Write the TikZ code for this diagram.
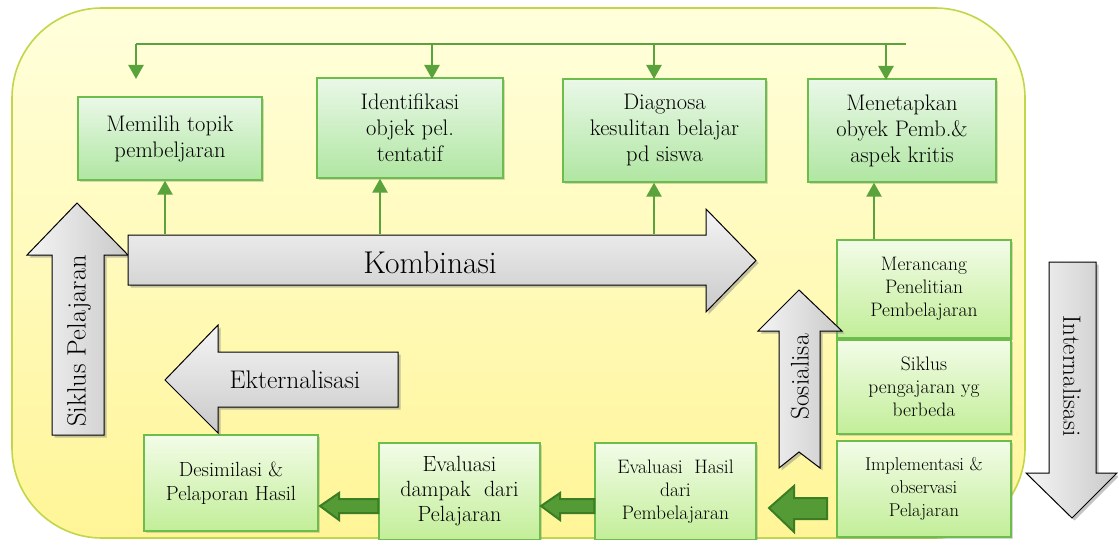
\documentclass[tikz,border=0pt]{standalone}
\usetikzlibrary{shadows,arrows.meta}
\definecolor{bgtop}{HTML}{FFFFDC}
\definecolor{bgbot}{HTML}{FFF597}
\definecolor{bgedge}{HTML}{C2D64A}
\definecolor{gtop}{HTML}{EAF8E8}
\definecolor{gbot}{HTML}{B0E6A2}
\definecolor{gedge}{HTML}{6CBD4C}
\definecolor{ytop}{HTML}{F3FCE8}
\definecolor{ybot}{HTML}{C2EE98}
\definecolor{connc}{HTML}{5AA23C}
\definecolor{darrow}{HTML}{3B7D25}
\definecolor{farrow}{HTML}{549A35}
\tikzset{
  x=1pt, y=-1pt,
  topbox/.style={draw=gedge, line width=1.3pt, top color=gtop, bottom color=gbot,
    align=center, inner sep=0pt, font=\fontsize{22.5}{26}\selectfont,
    drop shadow={shadow xshift=2pt, shadow yshift=-2pt, opacity=0.3}},
  sidebox/.style={topbox, top color=ytop, bottom color=ybot, font=\fontsize{19.5}{23}\selectfont},
  connline/.style={draw=connc, line width=2.4pt},
  conn/.style={connline, -{Triangle[length=14pt,width=15pt]}},
  grayarrow/.style={draw=black, line width=1pt, line join=miter,
    drop shadow={shadow xshift=2.5pt, shadow yshift=-2.5pt, opacity=0.45}},
  greenarrow/.style={draw=darrow, fill=farrow, line width=2pt, line join=miter},
  glabel/.style={inner sep=0pt, font=\fontsize{25.5}{28}\selectfont}
}
\begin{document}
\begin{tikzpicture}
\useasboundingbox (0,0) rectangle (1118,540);
\fill[white] (0,0) rectangle (1118,540);
% background panel
\shade[rounded corners=90pt, top color=bgtop, bottom color=bgbot, draw=bgedge, line width=1.6pt]
  (12,8) rectangle (1025,538);

% top boxes
\node[topbox, minimum width=184pt, minimum height=83pt] (b1) at (170,138.5) {Memilih topik\\pembeljaran};
\node[topbox, minimum width=186pt, minimum height=100pt] (b2) at (410,128) {Identifikasi\\objek pel.\\tentatif};
\node[topbox, minimum width=203pt, minimum height=103pt] (b3) at (664.5,130.5) {Diagnosa\\kesulitan belajar\\pd siswa};
\node[topbox, minimum width=188pt, minimum height=103pt] (b4) at (902,130.5) {Menetapkan\\obyek Pemb.\&\\aspek kritis};

% right column boxes
\node[sidebox, minimum width=174pt, minimum height=98pt] (r1) at (924,289) {Merancang\\Penelitian\\Pembelajaran};
\node[sidebox, minimum width=174pt, minimum height=94pt] (r2) at (924,387) {Siklus\\pengajaran yg\\berbeda};
\node[sidebox, minimum width=174pt, minimum height=96pt, font=\fontsize{18.5}{23}\selectfont] (r3) at (924,489) {Implementasi \&\\observasi\\Pelajaran};

% bottom boxes
\node[sidebox, minimum width=174pt, minimum height=96pt, font=\fontsize{20.5}{23.5}\selectfont] (d1) at (231,483) {Desimilasi \&\\Pelaporan Hasil};
\node[sidebox, minimum width=161pt, minimum height=97pt, font=\fontsize{22}{25}\selectfont] (d2) at (459.5,491.5) {Evaluasi\\dampak\ \ dari\\Pelajaran};
\node[sidebox, minimum width=161pt, minimum height=97pt] (d3) at (675.5,491.5) {Evaluasi\ \ Hasil\\dari\\Pembelajaran};

% top feedback line
\coordinate (tl) at (136,44);
\coordinate (tm1) at (432,44);
\coordinate (tm2) at (654,44);
\coordinate (tr) at (906,44);
\coordinate (tr2) at (886,44);
\coordinate (t1) at (136,79);
\coordinate (t2) at (432,79);
\coordinate (t3) at (654,79);
\coordinate (t4) at (886,80);
\draw[connline] (tl) -- (tr);
\draw[conn] (tl) -- (t1);
\draw[conn] (tm1) -- (t2);
\draw[conn] (tm2) -- (t3);
\draw[conn] (tr2) -- (t4);

% Siklus Pelajaran arrow (up)
\path[grayarrow, left color=gray!8, right color=gray!42]
  (52,435) -- (52,255) -- (27,255) -- (77,203) -- (128,255) -- (104,255) -- (104,435) -- cycle;
\node[glabel, font=\fontsize{26.5}{28}\selectfont, rotate=90] (siklus) at (79,341) {Siklus Pelajaran};

% Kombinasi arrow
\path[grayarrow, top color=gray!8, bottom color=gray!42]
  (128,235) -- (706,235) -- (706,209) -- (756,260.5) -- (706,312) -- (706,285) -- (128,285) -- cycle;
\node[inner sep=0pt, font=\fontsize{31.5}{34}\selectfont] (komb) at (430,263) {Kombinasi};

% up arrows from Kombinasi
\coordinate (k1) at (165,234);
\coordinate (k2) at (380,234);
\coordinate (k3) at (654,234);
\draw[conn] (k1) -- (k1 |- b1.south);
\draw[conn] (k2) -- (k2 |- b2.south);
\draw[conn] (k3) -- (k3 |- b3.south);
\coordinate (k4) at (874,240);
\draw[conn] (k4 |- r1.north) -- (k4 |- b4.south);

% Ekternalisasi arrow (left)
\path[grayarrow, top color=gray!8, bottom color=gray!42]
  (398,352) -- (218,352) -- (218,325) -- (165,380) -- (218,433) -- (218,407) -- (398,407) -- cycle;
\node[glabel] (ekst) at (295,380) {Ekternalisasi};

% Sosialisa arrow (up, notched)
\path[grayarrow, left color=gray!8, right color=gray!42]
  (779,468) -- (779,331) -- (758,331) -- (799,290) -- (842,331) -- (820,331) -- (820,468) -- (799,452) -- cycle;
\node[glabel, rotate=90] (sosial) at (800,377) {Sosialisa};

% Internalisasi arrow (down)
\path[grayarrow, left color=gray!8, right color=gray!42]
  (1049,262) -- (1096,262) -- (1096,473) -- (1117,473) -- (1072,518) -- (1026,473) -- (1049,473) -- cycle;
\node[glabel, font=\fontsize{25}{28}\selectfont, rotate=-90] (intern) at (1072,376) {Internalisasi};

% green block arrows
\path[greenarrow] (d2.west |- 0,499) -- (339,499) -- (339,493) -- (320,506) -- (339,520) -- (339,513) -- (d2.west |- 0,513) -- cycle;
\path[greenarrow] (d3.west |- 0,499) -- (560,499) -- (560,493) -- (541,506) -- (560,520) -- (560,513) -- (d3.west |- 0,513) -- cycle;
\path[greenarrow] (827,498) -- (794,498) -- (794,486) -- (769,508) -- (794,532) -- (794,519) -- (827,519) -- cycle;
\end{tikzpicture}
\end{document}
